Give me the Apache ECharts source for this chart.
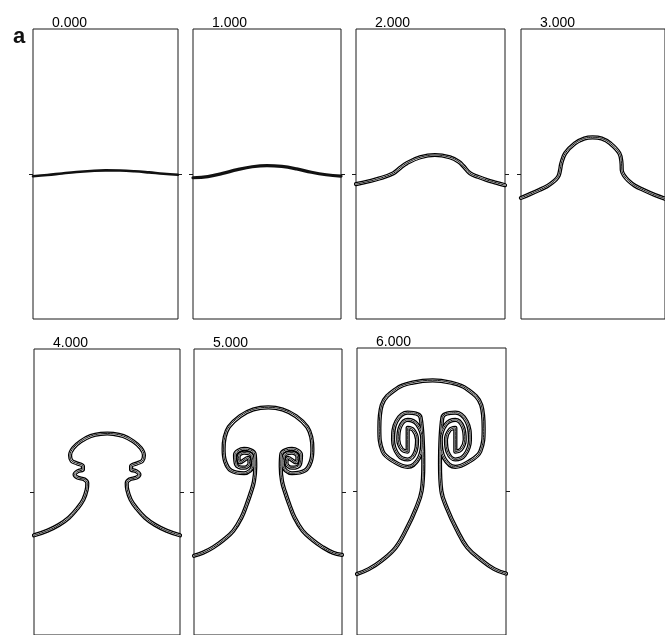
<!DOCTYPE html>
<html>
<head>
<meta charset="utf-8">
<script src="https://cdn.jsdelivr.net/npm/echarts@6/dist/echarts.min.js"></script>
<style>html,body{margin:0;padding:0;background:#fff}#c{width:665px;height:635px}</style>
</head>
<body>
<div id="c"></div>
<script>
// ---- data (panel units: x 0..1 across the box, y -1..1, 0 = middle tick) ----
const timeLabels = ['0.000', '1.000', '2.000', '3.000', '4.000', '5.000', '6.000'];
const panelLetter = 'a';

const interface_t0 = [[0,-0.015],[0.1,-0.007],[0.2,0.004],[0.3,0.014],[0.4,0.021],[0.5,0.025],[0.6,0.024],[0.7,0.019],[0.8,0.011],[0.9,0.002],[1,-0.005]];

const interface_t1 = [[0,-0.026],[0.1,-0.018],[0.2,0.004],[0.3,0.03],[0.4,0.05],[0.5,0.058],[0.6,0.052],[0.7,0.035],[0.8,0.012],[0.9,-0.005],[1,-0.015]];

const interface_t2 = [[0,-0.07],[0.08,-0.052],[0.16,-0.03],[0.25,0.005],[0.3,0.045],[0.34,0.074],[0.43,0.115],[0.53,0.131],[0.63,0.115],[0.69,0.085],[0.72,0.055],[0.765,0.005],[0.82,-0.02],[0.877,-0.041],[0.94,-0.06],[1,-0.077]];

const interface_t3 = [[0,-0.165],[0.06,-0.14],[0.128,-0.11],[0.18,-0.085],[0.217,-0.06],[0.245,-0.035],[0.262,-0.01],[0.272,0.03],[0.28,0.074],[0.307,0.143],[0.374,0.211],[0.44,0.245],[0.497,0.253],[0.56,0.245],[0.62,0.211],[0.683,0.143],[0.698,0.074],[0.70,0.025],[0.715,-0.01],[0.745,-0.045],[0.79,-0.08],[0.85,-0.11],[0.93,-0.145],[1,-0.17]];

const interface_t4 = [[0,-0.303],[0.091,-0.271],[0.171,-0.23],[0.24,-0.179],[0.297,-0.115],[0.338,-0.053],[0.361,0.016],[0.365,0.062],[0.345,0.088],[0.3,0.1],[0.278,0.122],[0.3,0.145],[0.335,0.158],[0.335,0.18],[0.295,0.2],[0.258,0.218],[0.247,0.257],[0.269,0.308],[0.32,0.354],[0.388,0.391],[0.457,0.407],[0.502,0.409],
  [0.543,0.407],[0.612,0.391],[0.68,0.354],[0.731,0.308],[0.753,0.257],[0.742,0.218],[0.705,0.2],[0.665,0.18],[0.665,0.158],[0.7,0.145],[0.722,0.122],[0.7,0.1],[0.655,0.088],[0.635,0.062],[0.639,0.016],[0.662,-0.053],[0.703,-0.115],[0.76,-0.179],[0.829,-0.23],[0.909,-0.271],[1,-0.303]];

const interface_t5 = [[0,-0.446],[0.06,-0.425],[0.131,-0.386],[0.2,-0.335],[0.266,-0.271],[0.32,-0.18],[0.356,-0.087],[0.385,0],[0.405,0.074],[0.414,0.177],
  [0.41,0.266],[0.338,0.301],[0.277,0.259],[0.285,0.192],[0.338,0.17],[0.375,0.201],[0.365,0.239],
  [0.311,0.207],[0.301,0.245],[0.338,0.276],[0.391,0.254],[0.398,0.187],[0.338,0.131],[0.25,0.15],[0.21,0.215],
  [0.2,0.3],[0.207,0.38],[0.235,0.455],[0.311,0.53],[0.4,0.577],[0.502,0.592],
  [0.598,0.577],[0.689,0.53],[0.765,0.455],[0.793,0.38],[0.8,0.3],
  [0.79,0.215],[0.75,0.15],[0.662,0.131],[0.602,0.187],[0.609,0.254],[0.662,0.276],[0.699,0.245],[0.689,0.207],
  [0.635,0.239],[0.625,0.201],[0.662,0.17],[0.715,0.192],[0.723,0.259],[0.662,0.301],[0.59,0.266],
  [0.586,0.177],[0.595,0.074],[0.615,0],[0.644,-0.087],[0.68,-0.18],[0.734,-0.271],[0.8,-0.335],[0.869,-0.386],[0.94,-0.425],[1,-0.44]];

const interface_t6 = [[0,-0.575],[0.08,-0.54],[0.17,-0.478],[0.26,-0.39],[0.333,-0.26],[0.395,-0.12],[0.434,0.005],[0.445,0.188],
  [0.427,0.515],[0.34,0.549],[0.264,0.488],[0.242,0.361],[0.277,0.254],[0.34,0.223],[0.391,0.273],[0.403,0.361],[0.378,0.429],[0.34,0.444],
  [0.34,0.278],[0.302,0.293],[0.277,0.361],[0.289,0.449],[0.34,0.499],[0.403,0.468],[0.438,0.361],[0.416,0.234],[0.34,0.172],[0.253,0.206],
  [0.172,0.28],[0.15,0.441],[0.166,0.602],[0.266,0.717],[0.374,0.759],[0.508,0.775],
  [0.626,0.759],[0.734,0.717],[0.834,0.602],[0.85,0.441],[0.828,0.28],
  [0.747,0.206],[0.66,0.172],[0.584,0.234],[0.562,0.361],[0.597,0.468],[0.66,0.499],[0.711,0.449],[0.723,0.361],[0.698,0.293],[0.66,0.278],
  [0.66,0.444],[0.622,0.429],[0.597,0.361],[0.609,0.273],[0.66,0.223],[0.723,0.254],[0.758,0.361],[0.736,0.488],[0.66,0.549],[0.573,0.515],
  [0.557,0.188],[0.566,0.005],[0.605,-0.12],[0.667,-0.26],[0.74,-0.39],[0.835,-0.478],[0.92,-0.54],[1,-0.572]];

const interfaces = [interface_t0, interface_t1, interface_t2, interface_t3, interface_t4, interface_t5, interface_t6];
const xRange = [0, 1];
const yRange = [-1, 1];
const midTick = [0];

// ---- layout & style ----
const boxes = [
  {left: 33, top: 29, width: 145},
  {left: 193, top: 29, width: 148},
  {left: 356, top: 29, width: 149},
  {left: 521, top: 29, width: 149},
  {left: 34, top: 349, width: 146},
  {left: 194, top: 349, width: 148},
  {left: 357, top: 348, width: 149}
];
const boxHeight = 290;
const bandKind = ['solid', 'solid', 'band', 'band', 'band', 'band', 'band'];
const solidWidth = [2.6, 3.2];
const INK = '#111';

const chart = echarts.init(document.getElementById('c'), null, {renderer: 'canvas'});

const grid = [], xAxis = [], yAxis = [], series = [], title = [];
boxes.forEach((b, i) => {
  grid.push({left: b.left, top: b.top, width: b.width, height: boxHeight, show: true,
    borderColor: '#1a1a1a', borderWidth: 1, backgroundColor: 'transparent', containLabel: false});
  xAxis.push({type: 'value', gridIndex: i, min: xRange[0], max: xRange[1], show: false});
  ['left', 'right'].forEach(pos => {
    yAxis.push({type: 'value', gridIndex: i, position: pos, min: yRange[0], max: yRange[1], interval: 1,
      axisLine: {show: false}, axisLabel: {show: false}, splitLine: {show: false},
      axisTick: {show: true, inside: false, length: 4, customValues: midTick, lineStyle: {color: '#1a1a1a', width: 1}}});
  });
  title.push({text: timeLabels[i], left: b.left + 19, top: b.top - 13, padding: 0,
    textStyle: {fontSize: 14, fontWeight: 'normal', color: '#000', fontFamily: 'Liberation Sans, Arial, sans-serif'}});

  const base = {type: 'line', xAxisIndex: i, yAxisIndex: i * 2, data: interfaces[i],
    showSymbol: false, symbol: 'none', smooth: 0.4, silent: true, animation: false, clip: true, z: 5};
  if (bandKind[i] === 'solid') {
    series.push(Object.assign({}, base, {lineStyle: {color: INK, width: solidWidth[i], cap: 'round', join: 'round'}}));
  } else {
    series.push(Object.assign({}, base, {lineStyle: {color: '#000', width: 4.2, cap: 'round', join: 'round'}}));
    series.push(Object.assign({}, base, {z: 6, lineStyle: {color: '#fff', width: 1.7, cap: 'round', join: 'round'}}));
    series.push(Object.assign({}, base, {z: 7, lineStyle: {color: '#000', width: 0.9, cap: 'round', join: 'round'}}));
  }
});
title.push({text: panelLetter, left: 13, top: 26, padding: 0,
  textStyle: {fontSize: 22, fontWeight: 'bold', color: INK, fontFamily: 'Liberation Sans, Arial, sans-serif'}});

chart.setOption({animation: false, backgroundColor: '#fff', title, grid, xAxis, yAxis, series});
</script>
</body>
</html>
